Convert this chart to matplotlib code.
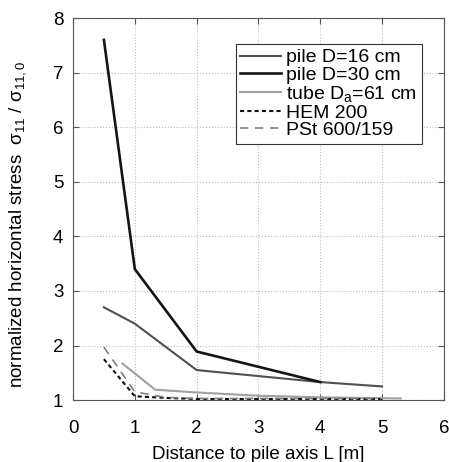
import numpy as np
import matplotlib.pyplot as plt

plt.rcParams['font.family'] = ['Liberation Sans', 'DejaVu Sans']
plt.rcParams['mathtext.default'] = 'regular'

# distances [m] and normalized stress values
x_p16 = [0.5, 1.0, 2.0, 4.0, 5.0]
y_p16 = [2.7, 2.4, 1.55, 1.33, 1.25]

x_p30 = [0.5, 1.0, 2.0, 4.0]
y_p30 = [7.6, 3.4, 1.89, 1.33]

x_tube = [0.8, 1.33, 2.0, 3.0, 4.0, 5.3]
y_tube = [1.67, 1.19, 1.14, 1.08, 1.05, 1.03]

x_hem = [0.5, 1.0, 1.5, 2.0, 3.0, 4.0, 5.0]
y_hem = [1.75, 1.07, 1.04, 1.02, 1.02, 1.02, 1.02]

x_pst = [0.5, 1.0, 1.5, 2.0, 3.0, 4.0, 5.0]
y_pst = [1.97, 1.15, 1.05, 1.03, 1.03, 1.03, 1.03]

labels = ['pile D=16 cm', 'pile D=30 cm', 'tube D$_{a}$=61 cm',
          'HEM 200', 'PSt 600/159']

fig = plt.figure(figsize=(4.49, 4.62), dpi=100)
ax = fig.add_axes([0.1626, 0.134, 0.826, 0.827])

ax.plot(x_p16, y_p16, color='#505050', lw=1.5, label=labels[0])
ax.plot(x_p30, y_p30, color='#151515', lw=1.9, label=labels[1])
ax.plot(x_tube, y_tube, color='#a0a0a0', lw=1.5, label=labels[2])
ax.plot(x_hem, y_hem, color='#111111', lw=1.5, ls=(0, (2, 1.5)), label=labels[3])
ax.plot(x_pst, y_pst, color='#808080', lw=1.2, ls=(0, (5, 4)), label=labels[4])

ax.set_xlim(0, 6)
ax.set_ylim(1, 8)
ax.set_xticks(np.arange(0, 7))
ax.set_yticks(np.arange(1, 9))
ax.grid(True, ls=':', color='#bbbbbb', lw=0.8)
ax.tick_params(direction='in', labelsize=13.5, length=4, color='#555555',
               top=True, right=True)
ax.tick_params(axis='x', pad=14)
ax.tick_params(axis='y', pad=7)
for s in ax.spines.values():
    s.set_color('#555555')
    s.set_linewidth(0.8)

ax.set_xlabel('Distance to pile axis L [m]', fontsize=13.5, labelpad=7)
ax.set_ylabel('normalized horizontal stress  σ$_{11}$ / σ$_{11,0}$',
              fontsize=13.5)
ax.yaxis.set_label_coords(-0.121, 0.46)

leg = ax.legend(loc='upper right', bbox_to_anchor=(0.941, 0.932), fontsize=14,
                frameon=True, fancybox=False, edgecolor='#333333',
                handlelength=2.1, handletextpad=0.25, labelspacing=0.0,
                borderpad=0.25, borderaxespad=0, framealpha=1)
leg.get_frame().set_linewidth(0.8)

fig.savefig('out.png', dpi=100)
